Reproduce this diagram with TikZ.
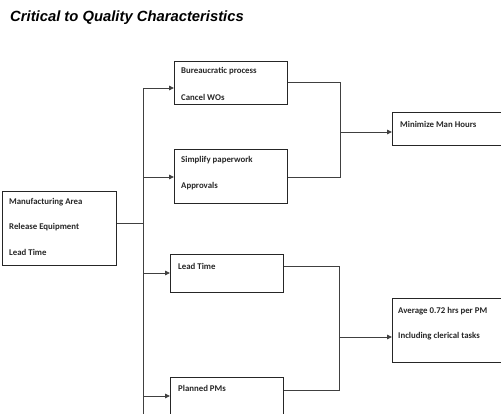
\documentclass[tikz,border=0pt]{standalone}
\usepackage{fontspec}
\setmainfont{Carlito}
\newfontfamily\titlefont{Liberation Sans}
\usetikzlibrary{arrows.meta}
\begin{document}
\begin{tikzpicture}[x=1pt,y=-1pt,
  box/.style={draw=black!85,line width=0.8pt,inner sep=0pt,anchor=north west},
  lbl/.style={anchor=west,inner sep=0pt,font=\fontsize{8.8}{10}\selectfont\bfseries,text=black!85},
  conn/.style={draw=black!75,line width=0.9pt},
  arr/.style={conn,-{Triangle[length=5pt,width=4.5pt]}}]
\clip (0,0) rectangle (501,414);
\useasboundingbox (0,0) rectangle (501,414);
\node[anchor=west,inner sep=0pt,font=\titlefont\fontsize{14.8}{16}\selectfont\bfseries\itshape] (title) at (10,18) {Critical to Quality Characteristics};
% boxes
\node[box,minimum width=114pt,minimum height=74pt] (main) at (2,191) {};
\node[box,minimum width=113pt,minimum height=43pt] (b1) at (174,61) {};
\node[box,minimum width=113pt,minimum height=54pt] (b2) at (174,149) {};
\node[box,minimum width=108.5pt,minimum height=33pt] (b3) at (392,112) {};
\node[box,minimum width=113pt,minimum height=38pt] (b4) at (170,254) {};
\node[box,minimum width=113pt,minimum height=50pt] (b5) at (170,377) {};
\node[box,minimum width=108.5pt,minimum height=64pt] (b6) at (392,298) {};
% labels
\node[lbl] (t1) at (9,202) {Manufacturing Area};
\node[lbl] (t2) at (9,227) {Release Equipment};
\node[lbl] (t3) at (9,252) {Lead Time};
\node[lbl] (t4) at (181,71) {Bureaucratic process};
\node[lbl] (t5) at (181,97) {Cancel WOs};
\node[lbl] (t6) at (181,160) {Simplify paperwork};
\node[lbl] (t7) at (181,186) {Approvals};
\node[lbl] (t8) at (400,124) {Minimize Man Hours};
\node[lbl] (t9) at (178,266) {Lead Time};
\node[lbl] (t10) at (178,388) {Planned PMs};
\node[lbl] (t11) at (398,311) {Average 0.72 hrs per PM};
\node[lbl] (t12) at (398,336) {Including clerical tasks};
% junctions
\coordinate (j0) at (143,223);
\coordinate (jt) at (143,88);
\coordinate (jb) at (143,420);
\coordinate (ja) at (340,82);
\coordinate (jc) at (340,177);
\coordinate (jm) at (340,132);
\coordinate (jd) at (339,266);
\coordinate (je) at (339,390);
\coordinate (jn) at (339,337);
% connectors
\draw[conn] (main.east |- j0) -- (j0);
\draw[conn] (jt) -- (jb);
\draw[arr] (jt) -- (b1.west |- jt);
\draw[arr] (143,177) -- (b2.west |- 0,177);
\draw[arr] (143,273) -- (b4.west |- 0,273);
\draw[arr] (143,396) -- (b5.west |- 0,396);
\draw[conn] (b1.east |- ja) -- (ja) -- (jc) -- (b2.east |- jc);
\draw[arr] (jm) -- (b3.west |- jm);
\draw[conn] (b4.east |- jd) -- (jd) -- (je) -- (b5.east |- je);
\draw[arr] (jn) -- (b6.west |- jn);
\end{tikzpicture}
\end{document}
